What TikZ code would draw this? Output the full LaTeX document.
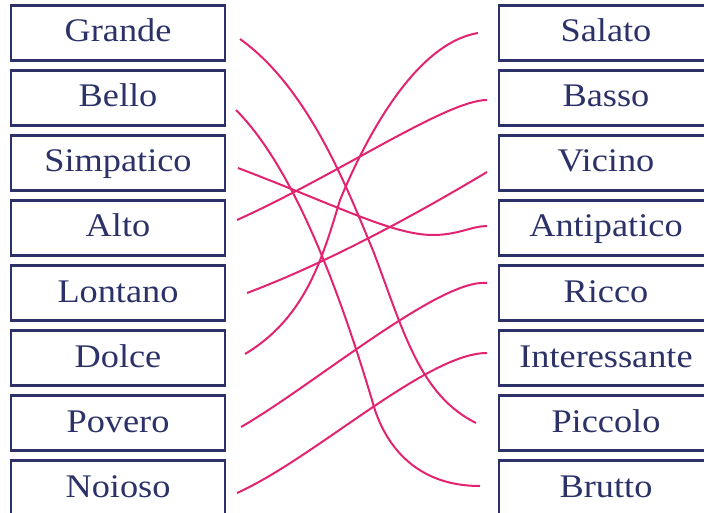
\documentclass[tikz,border=0pt]{standalone}
\usepackage{fontspec}
\setmainfont{Liberation Serif}[FakeStretch=1.1]
\usepackage{tikz}
\usetikzlibrary{positioning}
\definecolor{navy}{RGB}{44,50,104}
\definecolor{linkpink}{RGB}{226,35,112}

\begin{document}
\begin{tikzpicture}[node distance=10pt,x=1pt,y=-1pt]
\tikzset{word/.style={draw=navy,line width=2.2pt,text=navy,minimum width=214pt,minimum height=55pt,inner sep=0pt,outer sep=0pt,text height=24pt,text depth=6pt,font=\fontsize{33}{36}\selectfont},
  link/.style={draw=linkpink,line width=2pt}}
\useasboundingbox (-118,-33) rectangle ++(704,513);
% left column
\node[word] (gra) {Grande};
\node[word,below=of gra] (bel) {Bello};
\node[word,below=of bel] (sim) {Simpatico};
\node[word,below=of sim] (alt) {Alto};
\node[word,below=of alt] (lon) {Lontano};
\node[word,below=of lon] (dol) {Dolce};
\node[word,below=of dol] (pov) {Povero};
\node[word,below=of pov] (noi) {Noioso};
% right column
\node[word,right=274pt of gra] (sal) {Salato};
\node[word,below=of sal] (bas) {Basso};
\node[word,below=of bas] (vic) {Vicino};
\node[word,below=of vic] (ant) {Antipatico};
\node[word,below=of ant] (ric) {Ricco};
\node[word,below=of ric] (int) {Interessante};
\node[word,below=of int] (pic) {Piccolo};
\node[word,below=of pic] (bru) {Brutto};
% opposites
\draw[link] ([shift={(15,6)}]gra.east) .. controls +(70,50) and +(-25,-60) .. ++(134,214) .. controls +(30,80) and +(-56,-28) .. ([shift={(-23,0)}]pic.west);
\draw[link] ([shift={(11,12)}]bel.east) .. controls +(60,60) and +(-30,-100) .. ++(136,290) .. controls +(9,35) and +(-72,0) .. ([shift={(-19,-2)}]bru.west);
\draw[link] ([shift={(13,5)}]sim.east) .. controls +(100,38) and +(-40,0) .. ++(195,67) .. controls +(25,0) and +(-15,0) .. ([shift={(-12,-2)}]ant.west);
\draw[link] ([shift={(12,-8)}]alt.east) .. controls +(100,-45) and +(-40,0) .. ([shift={(-12,2)}]bas.west);
\draw[link] ([shift={(22,0)}]lon.east) .. controls +(80,-30) and +(-70,42) .. ([shift={(-12,9)}]vic.west);
\draw[link] ([shift={(20,-4)}]dol.east) .. controls +(60,-36) and +(-18,60) .. ++(95,-154) .. controls +(29,-70) and +(-60,10) .. ([shift={(-21,0)}]sal.west);
\draw[link] ([shift={(16,4)}]pov.east) .. controls +(70,-40) and +(-47,-5) .. ([shift={(-12,-10)}]ric.west);
\draw[link] ([shift={(12,5)}]noi.east) .. controls +(78,-35) and +(-60,0) .. ([shift={(-12,-5)}]int.west);
\end{tikzpicture}
\end{document}
